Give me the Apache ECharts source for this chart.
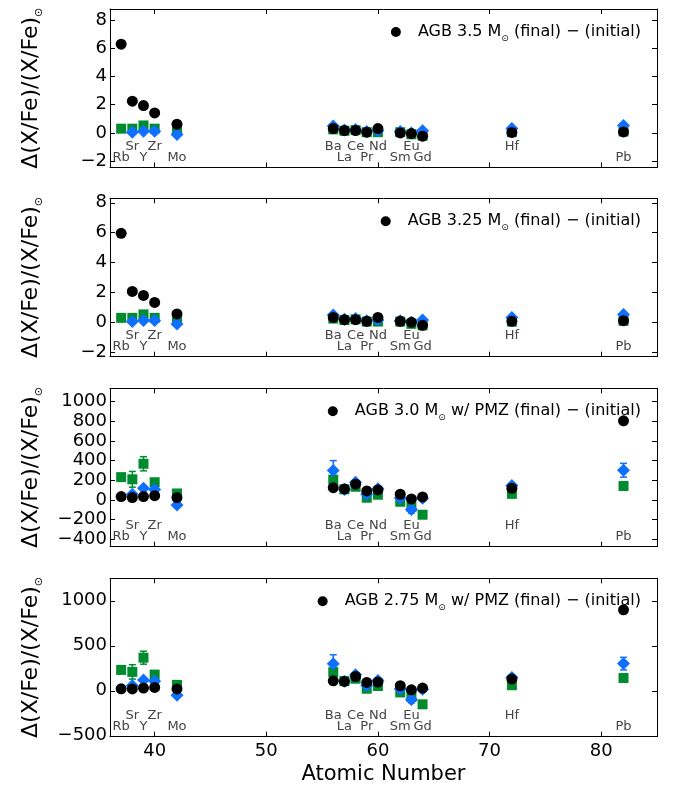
<!DOCTYPE html>
<html lang="en">
<head>
<meta charset="UTF-8">
<title>AGB abundance changes</title>
<script src="https://cdn.jsdelivr.net/npm/echarts@6/dist/echarts.min.js"></script>
<style>
  html, body { margin: 0; padding: 0; background: #fff; }
  #chart { width: 685px; height: 786px; }
</style>
</head>
<body>
<div id="chart"></div>
<script>
// elements and their atomic numbers
const elements = ['Rb', 'Sr', 'Y', 'Zr', 'Mo', 'Ba', 'La', 'Ce', 'Pr', 'Nd', 'Sm', 'Eu', 'Gd', 'Hf', 'Pb'];
const atomicNumbers = [37, 38, 39, 40, 42, 56, 57, 58, 59, 60, 62, 63, 64, 72, 82];
// label row: 0 = lower line, 1 = upper line
const labelRow = [0, 1, 0, 1, 0, 1, 0, 1, 0, 1, 0, 1, 0, 1, 0];

// AGB models (black circles)
const agb350 = [6.3, 2.25, 1.94, 1.42, 0.62, 0.31, 0.17, 0.17, 0.05, 0.31, 0.0, -0.05, -0.23, 0.03, 0.07];
const agb325 = [5.96, 2.07, 1.8, 1.33, 0.56, 0.33, 0.18, 0.18, 0.07, 0.33, 0.07, 0.0, -0.2, 0.07, 0.11];
const agb300pmz = [34, 24, 34, 44, 24, 125, 112, 160, 92, 102, 58, 10, 31, 119, 805];
const agb275pmz = [22, 21, 30, 37, 21, 111, 104, 159, 93, 97, 56, 11, 30, 130, 900];

// comparison sets, top two panels
const greenSmall = [0.3, 0.3, 0.53, 0.3, 0.3, 0.25, 0.15, 0.2, 0.05, 0.05, 0.05, -0.1, -0.2, 0.05, 0.1];
const blueSmall = [null, 0.05, 0.12, 0.12, -0.12, 0.49, 0.2, 0.25, 0.1, 0.15, 0.1, 0.0, 0.16, 0.32, 0.53];

// comparison sets, bottom two panels (with errors)
const greenLarge = [232, 210, 368, 180, 66, 207, 108, 134, 23, 53, -18, -70, -150, 62, 142];
const greenLargeErr = [10, 80, 72, 0, 0, 0, 0, 0, 0, 0, 0, 0, 0, 0, 0];
const blueLarge = [null, 58, 120, 106, -50, 300, 106, 179, 58, 115, 21, -98, 18, 147, 302];
const blueLargeErr = [0, 0, 0, 0, 0, 100, 0, 0, 0, 0, 0, 35, 0, 22, 70];

// axis ticks
const xTicks = [40, 50, 60, 70, 80];
const yTicksSmall = [-2, 0, 2, 4, 6, 8];
const yTicks300 = [-400, -200, 0, 200, 400, 600, 800, 1000];
const yTicks275 = [-500, 0, 500, 1000];

const modelNames = [
  'AGB 3.5 M⊙ (final) − (initial)',
  'AGB 3.25 M⊙ (final) − (initial)',
  'AGB 3.0 M⊙ w/ PMZ (final) − (initial)',
  'AGB 2.75 M⊙ w/ PMZ (final) − (initial)'
];

const panels = [
  { model: agb350, green: greenSmall, blue: blueSmall, gErr: null, bErr: null,
    yMin: -2.45, yMax: 8.8, ticks: yTicksSmall, labelY: [-1.73, -0.95] },
  { model: agb325, green: greenSmall, blue: blueSmall, gErr: null, bErr: null,
    yMin: -2.3, yMax: 8.3, ticks: yTicksSmall, labelY: [-1.6, -0.89] },
  { model: agb300pmz, green: greenLarge, blue: blueLarge, gErr: greenLargeErr, bErr: blueLargeErr,
    yMin: -475, yMax: 1135, ticks: yTicks300, labelY: [-373, -261] },
  { model: agb275pmz, green: greenLarge, blue: blueLarge, gErr: greenLargeErr, bErr: blueLargeErr,
    yMin: -510, yMax: 1250, ticks: yTicks275, labelY: [-397, -274] }
];

const gridTops = [9, 198.3, 388.3, 578.3];
const FONT = '"DejaVu Sans", sans-serif';
const GREEN = '#008c2e';
const BLUE = '#0f6fff';

function minusFmt(v) {
  return v < 0 ? '\u2212' + Math.abs(v) : String(v);
}

function pairs(values) {
  return atomicNumbers.map((z, i) => [z, values[i]]).filter(p => p[1] !== null);
}

function errPairs(values, errs) {
  const out = [];
  atomicNumbers.forEach((z, i) => {
    if (values[i] !== null && errs[i] > 0) out.push([z, values[i] - errs[i], values[i] + errs[i]]);
  });
  return out;
}

// vertical error bar with caps
function renderErr(params, api) {
  const x = api.value(0);
  const lo = api.coord([x, api.value(1)]);
  const hi = api.coord([x, api.value(2)]);
  const cap = 3.5;
  const style = { stroke: api.visual('color'), lineWidth: 1.5 };
  return {
    type: 'group',
    children: [
      { type: 'line', shape: { x1: lo[0], y1: lo[1], x2: hi[0], y2: hi[1] }, style: style },
      { type: 'line', shape: { x1: lo[0] - cap, y1: lo[1], x2: lo[0] + cap, y2: lo[1] }, style: style },
      { type: 'line', shape: { x1: hi[0] - cap, y1: hi[1], x2: hi[0] + cap, y2: hi[1] }, style: style }
    ]
  };
}

// element name under each group
function renderLabel(params, api) {
  const p = api.coord([api.value(0), api.value(1)]);
  return {
    type: 'text',
    x: p[0],
    y: p[1],
    style: {
      text: elements[params.dataIndex],
      fill: '#444',
      fontSize: 13,
      fontFamily: FONT,
      align: 'center',
      verticalAlign: 'middle'
    }
  };
}

const grid = [], xAxis = [], yAxis = [], series = [], legend = [];

panels.forEach((p, i) => {
  grid.push({ left: 110, right: 28, top: gridTops[i], height: 158.4 });

  const last = i === panels.length - 1;
  // bottom x axis
  xAxis.push({
    gridIndex: i, type: 'value', min: 36, max: 85, position: 'bottom',
    axisLine: { onZero: false, lineStyle: { color: '#000', width: 1 } },
    axisTick: { inside: true, length: 5, customValues: xTicks, lineStyle: { color: '#000' } },
    axisLabel: { show: last, customValues: xTicks, fontSize: 18, fontFamily: FONT, color: '#000', margin: 6 },
    splitLine: { show: false },
    name: last ? 'Atomic Number' : '', nameLocation: 'middle', nameGap: 27,
    nameTextStyle: { fontSize: 21, fontFamily: FONT, color: '#000' }
  });
  // top x axis
  xAxis.push({
    gridIndex: i, type: 'value', min: 36, max: 85, position: 'top',
    axisLine: { onZero: false, lineStyle: { color: '#000', width: 1 } },
    axisTick: { inside: true, length: 5, customValues: xTicks, lineStyle: { color: '#000' } },
    axisLabel: { show: false },
    splitLine: { show: false }
  });
  // left y axis
  yAxis.push({
    gridIndex: i, type: 'value', min: p.yMin, max: p.yMax, position: 'left',
    axisLine: { show: true, onZero: false, lineStyle: { color: '#000', width: 1 } },
    axisTick: { show: true, inside: true, length: 5, customValues: p.ticks, lineStyle: { color: '#000' } },
    axisLabel: { customValues: p.ticks, fontSize: 18, fontFamily: FONT, color: '#000', margin: 3, formatter: minusFmt },
    splitLine: { show: false },
    name: 'Δ(X/Fe)/(X/Fe){sub|⊙}', nameLocation: 'middle', nameGap: 65,
    nameTextStyle: {
      fontSize: 22, fontFamily: FONT, color: '#000', lineHeight: 27,
      rich: { sub: { fontSize: 11, fontFamily: FONT, color: '#000', lineHeight: 11, verticalAlign: 'bottom' } }
    }
  });
  // right y axis
  yAxis.push({
    gridIndex: i, type: 'value', min: p.yMin, max: p.yMax, position: 'right',
    axisLine: { show: true, onZero: false, lineStyle: { color: '#000', width: 1 } },
    axisTick: { show: true, inside: true, length: 5, customValues: p.ticks, lineStyle: { color: '#000' } },
    axisLabel: { show: false },
    splitLine: { show: false }
  });

  const xi = i * 2, yi = i * 2;

  if (p.gErr) {
    series.push({
      type: 'custom', xAxisIndex: xi, yAxisIndex: yi, renderItem: renderErr,
      itemStyle: { color: GREEN }, encode: { x: 0, y: [1, 2] },
      data: errPairs(p.green, p.gErr), silent: true
    });
  }
  series.push({
    name: 'green' + i, type: 'scatter', xAxisIndex: xi, yAxisIndex: yi,
    symbol: 'rect', symbolSize: 10, itemStyle: { color: GREEN, opacity: 1 },
    data: pairs(p.green)
  });
  if (p.bErr) {
    series.push({
      type: 'custom', xAxisIndex: xi, yAxisIndex: yi, renderItem: renderErr,
      itemStyle: { color: BLUE }, encode: { x: 0, y: [1, 2] },
      data: errPairs(p.blue, p.bErr), silent: true
    });
  }
  series.push({
    name: 'blue' + i, type: 'scatter', xAxisIndex: xi, yAxisIndex: yi,
    symbol: 'diamond', symbolSize: 13, itemStyle: { color: BLUE, opacity: 1 },
    data: pairs(p.blue)
  });
  series.push({
    name: modelNames[i], type: 'scatter', xAxisIndex: xi, yAxisIndex: yi,
    symbol: 'circle', symbolSize: 11, itemStyle: { color: '#000', opacity: 1 },
    data: pairs(p.model)
  });
  series.push({
    type: 'custom', xAxisIndex: xi, yAxisIndex: yi, renderItem: renderLabel,
    encode: { x: 0, y: 1 }, silent: true,
    data: atomicNumbers.map((z, k) => [z, p.labelY[labelRow[k]]])
  });

  legend.push({
    data: [modelNames[i]], right: 44, top: gridTops[i] + 12, padding: 0,
    itemWidth: 34, itemHeight: 10, icon: 'circle',
    formatter: n => n.replace('⊙', '{sub|⊙}'),
    textStyle: {
      fontSize: 16, fontFamily: FONT, color: '#000', lineHeight: 22,
      rich: { sub: { fontSize: 9, fontFamily: FONT, color: '#000', lineHeight: 9, verticalAlign: 'bottom' } }
    }
  });
});

const chart = echarts.init(document.getElementById('chart'), null, { renderer: 'canvas' });
chart.setOption({
  animation: false,
  backgroundColor: '#fff',
  grid: grid,
  xAxis: xAxis,
  yAxis: yAxis,
  legend: legend,
  series: series
});
</script>
</body>
</html>
